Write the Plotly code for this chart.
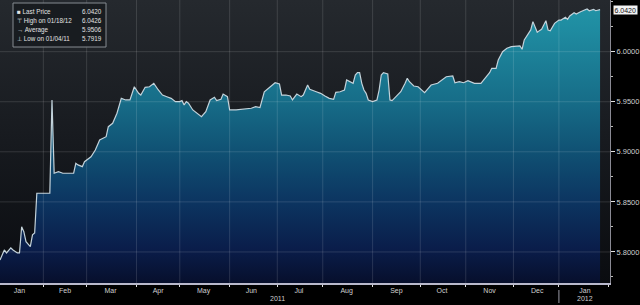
import pandas as pd
import plotly.graph_objects as go

# ---- data ----
dates = [
    "2011-01-04", "2011-01-06", "2011-01-07", "2011-01-11", "2011-01-12", "2011-01-14",
    "2011-01-17", "2011-01-18", "2011-01-19", "2011-01-20", "2011-01-24", "2011-01-25",
    "2011-01-26", "2011-01-27", "2011-02-04", "2011-02-07", "2011-02-08", "2011-02-10",
    "2011-02-14", "2011-02-21", "2011-02-22", "2011-02-23", "2011-02-25", "2011-02-28",
    "2011-03-03", "2011-03-07", "2011-03-09", "2011-03-14", "2011-03-15", "2011-03-17",
    "2011-03-21", "2011-03-23", "2011-03-25", "2011-03-29", "2011-03-31", "2011-04-04",
    "2011-04-05", "2011-04-07", "2011-04-11", "2011-04-13", "2011-04-15", "2011-04-19",
    "2011-04-21", "2011-04-25", "2011-04-27", "2011-04-29", "2011-05-02", "2011-05-03",
    "2011-05-04", "2011-05-05", "2011-05-09", "2011-05-11", "2011-05-13", "2011-05-17",
    "2011-05-19", "2011-05-23", "2011-05-24", "2011-05-26", "2011-05-27", "2011-05-31",
    "2011-06-01", "2011-06-06", "2011-06-09", "2011-06-15", "2011-06-17", "2011-06-21",
    "2011-06-23", "2011-06-28", "2011-06-30", "2011-07-04", "2011-07-05", "2011-07-07",
    "2011-07-11", "2011-07-12", "2011-07-14", "2011-07-18", "2011-07-19", "2011-07-21",
    "2011-07-22", "2011-07-27", "2011-07-29", "2011-08-02", "2011-08-04", "2011-08-08",
    "2011-08-09", "2011-08-11", "2011-08-15", "2011-08-16", "2011-08-18", "2011-08-19",
    "2011-08-22", "2011-08-23", "2011-08-24", "2011-08-25", "2011-08-26", "2011-08-29",
    "2011-08-30", "2011-09-01", "2011-09-05", "2011-09-06", "2011-09-07", "2011-09-08",
    "2011-09-12", "2011-09-13", "2011-09-14", "2011-09-16", "2011-09-20", "2011-09-22",
    "2011-09-23", "2011-09-26", "2011-09-28", "2011-09-30", "2011-10-05", "2011-10-06",
    "2011-10-10", "2011-10-13", "2011-10-17", "2011-10-19", "2011-10-24", "2011-10-25",
    "2011-10-27", "2011-10-31", "2011-11-02", "2011-11-07", "2011-11-10", "2011-11-14",
    "2011-11-16", "2011-11-17", "2011-11-21", "2011-11-22", "2011-11-24", "2011-11-28",
    "2011-11-30", "2011-12-06", "2011-12-07", "2011-12-08", "2011-12-12", "2011-12-13",
    "2011-12-14", "2011-12-15", "2011-12-16", "2011-12-19", "2011-12-20", "2011-12-21",
    "2011-12-22", "2011-12-23", "2011-12-26", "2011-12-28", "2011-12-30", "2012-01-02",
    "2012-01-04", "2012-01-05", "2012-01-06", "2012-01-10", "2012-01-11", "2012-01-13",
    "2012-01-16", "2012-01-18", "2012-01-19", "2012-01-23", "2012-01-24", "2012-01-26",
]
prices = [
    5.7919, 5.8020, 5.7990, 5.8040, 5.8020, 5.7990,
    5.7990, 5.8252, 5.8202, 5.8103, 5.8053, 5.8170,
    5.8190, 5.8586, 5.8586, 5.9517, 5.8786, 5.8802,
    5.8786, 5.8786, 5.8885, 5.8869, 5.8852, 5.8901,
    5.8951, 5.9018, 5.9118, 5.9151, 5.9251, 5.9285,
    5.9385, 5.9534, 5.9518, 5.9518, 5.9650, 5.9584,
    5.9567, 5.9644, 5.9650, 5.9684, 5.9620, 5.9567,
    5.9550, 5.9534, 5.9501, 5.9501, 5.9511, 5.9468,
    5.9501, 5.9485, 5.9418, 5.9385, 5.9351, 5.9401,
    5.9518, 5.9545, 5.9511, 5.9525, 5.9577, 5.9551,
    5.9418, 5.9418, 5.9425, 5.9435, 5.9451, 5.9441,
    5.9600, 5.9650, 5.9690, 5.9677, 5.9567, 5.9567,
    5.9557, 5.9518, 5.9577, 5.9551, 5.9567, 5.9667,
    5.9624, 5.9600, 5.9584, 5.9557, 5.9534, 5.9524,
    5.9594, 5.9600, 5.9617, 5.9717, 5.9700, 5.9684,
    5.9767, 5.9790, 5.9790, 5.9684, 5.9617, 5.9584,
    5.9518, 5.9501, 5.9518, 5.9617, 5.9767, 5.9790,
    5.9777, 5.9518, 5.9511, 5.9551, 5.9600, 5.9684,
    5.9734, 5.9700, 5.9657, 5.9650, 5.9590, 5.9617,
    5.9667, 5.9684, 5.9717, 5.9750, 5.9757, 5.9690,
    5.9700, 5.9690, 5.9710, 5.9684, 5.9684, 5.9734,
    5.9790, 5.9834, 5.9834, 5.9917, 6.0000, 6.0034,
    6.0050, 6.0057, 6.0024, 6.0117, 6.0184, 6.0217,
    6.0300, 6.0249, 6.0194, 6.0210, 6.0224, 6.0266,
    6.0309, 6.0216, 6.0209, 6.0283, 6.0316, 6.0316,
    6.0343, 6.0323, 6.0356, 6.0389, 6.0376, 6.0399,
    6.0409, 6.0426, 6.0409, 6.0423, 6.0409, 6.0420,
]

legend_labels = ["Last Price", "High on 01/18/12", "Average", "Low on 01/04/11"]
legend_symbols = ["\u25A0", "\u22A4", "\u2192", "\u22A5"]
legend_values = ["6.0420", "6.0426", "5.9506", "5.7919"]
last_price = 6.0420

y_ticks = [5.80, 5.85, 5.90, 5.95, 6.00]
month_labels = ["Jan", "Feb", "Mar", "Apr", "May", "Jun", "Jul", "Aug", "Sep", "Oct", "Nov", "Dec", "Jan"]
month_label_dates = ["2011-01-17", "2011-02-15", "2011-03-16", "2011-04-15", "2011-05-16", "2011-06-15",
                     "2011-07-15", "2011-08-16", "2011-09-16", "2011-10-17", "2011-11-16", "2011-12-16",
                     "2012-01-17"]
year_labels = ["2011", "2012"]
year_label_dates = ["2011-07-01", "2012-01-17"]

x_range = ["2011-01-04 00:00", "2012-02-01 14:00"]
y_range = [5.769, 6.0516]

month_starts = pd.date_range("2011-02-01", "2012-01-01", freq="MS")

# ---- figure ----
W, H = 640, 305
ML, MR, MT, MB = 0, 30, 0, 22
PW, PH = W - ML - MR, H - MT - MB
FONT = "Liberation Sans, Arial"


def px_x(p):
    return p / PW


def px_y(p):
    return (PH - p) / PH


fig = go.Figure()

# background gradient of the plotting area
fig.add_trace(go.Scatter(
    x=x_range, y=[y_range[1], y_range[1]], mode="lines",
    line=dict(width=0), fill="tozeroy",
    fillgradient=dict(type="vertical", start=y_range[0], stop=y_range[1],
                      colorscale=[[0, "#0a0c10"], [0.5, "#171a1f"], [1, "#25292e"]]),
    hoverinfo="skip", showlegend=False,
))

fig.add_trace(go.Scatter(
    x=dates, y=prices, mode="lines",
    line=dict(color="#c3d2da", width=1.2),
    fill="tozeroy",
    fillgradient=dict(type="vertical", start=y_range[0], stop=y_range[1],
                      colorscale=[[0, "#070f2c"], [0.12, "#0a1d4a"], [0.29, "#0c3561"],
                                  [0.47, "#105274"], [0.65, "#176e89"], [0.9, "#1f8ca1"],
                                  [1, "#2396a8"]]),
    showlegend=False,
))

shapes = []
grid_col = "rgba(255,255,255,0.13)"
for d in month_starts:
    shapes.append(dict(type="line", xref="x", yref="paper", x0=d, x1=d, y0=0, y1=1,
                       line=dict(color=grid_col, width=1), layer="above"))
for v in y_ticks:
    shapes.append(dict(type="line", xref="paper", yref="y", x0=0, x1=1, y0=v, y1=v,
                       line=dict(color=grid_col, width=1), layer="above"))

# legend box
shapes.append(dict(type="rect", xref="paper", yref="paper",
                   x0=px_x(13), x1=px_x(106), y0=px_y(47), y1=px_y(3),
                   fillcolor="rgba(24,27,31,0.92)", line=dict(color="#858b91", width=1),
                   layer="above"))
# separator between year groups
shapes.append(dict(type="line", xref="x", yref="paper", x0=month_starts[-1], x1=month_starts[-1],
                   y0=px_y(290), y1=px_y(303), line=dict(color="#9a9aa6", width=1)))

annotations = []
rows_py = [12, 21, 30, 39]
for sym, lab, val, py in zip(legend_symbols, legend_labels, legend_values, rows_py):
    annotations.append(dict(xref="paper", yref="paper", x=px_x(15), y=px_y(py),
                            text=sym + " " + lab, showarrow=False, xanchor="left", yanchor="middle",
                            font=dict(family=FONT, size=6.3, color="#e2e2e2")))
    annotations.append(dict(xref="paper", yref="paper", x=px_x(104), y=px_y(py),
                            text=val, showarrow=False, xanchor="right", yanchor="middle",
                            font=dict(family=FONT, size=6.3, color="#e2e2e2")))

for t, d in zip(year_labels, year_label_dates):
    annotations.append(dict(xref="x", yref="paper", x=d, y=px_y(298), text=t, showarrow=False,
                            xanchor="center", yanchor="middle",
                            font=dict(family=FONT, size=7, color="#cfcfcf")))

# last price tag
annotations.append(dict(xref="paper", yref="y", x=px_x(613), y=last_price, text="%.4f" % last_price,
                        showarrow=False, xanchor="left", yanchor="middle", bgcolor="#f2f2f2",
                        borderpad=0.5, font=dict(family=FONT, size=7, color="#111")))

fig.update_layout(
    width=W, height=H,
    margin=dict(l=ML, r=MR, t=MT, b=MB),
    paper_bgcolor="#000000",
    plot_bgcolor="#15181c",
    shapes=shapes,
    annotations=annotations,
    xaxis=dict(
        type="date", range=x_range,
        rangebreaks=[dict(bounds=["sat", "mon"])],
        tickvals=month_label_dates, ticktext=month_labels,
        ticks="", ticklen=0,
        minor=dict(dtick="M1", tick0="2011-01-01", ticks="outside", ticklen=2,
                   tickcolor="#e0e0e0", tickwidth=1, showgrid=False),
        showgrid=False, zeroline=False,
        showline=True, linecolor="#b9b9cc", linewidth=2,
        tickfont=dict(family=FONT, size=7, color="#d0d0d0"),
    ),
    yaxis=dict(
        range=y_range, side="right",
        tickvals=y_ticks, tickformat=".4f",
        ticks="outside", ticklen=4, tickcolor="#e0e0e0", tickwidth=1,
        minor=dict(dtick=0.025, tick0=5.775, ticks="outside", ticklen=2, tickcolor="#bbbbbb", showgrid=False),
        showgrid=False, zeroline=False,
        showline=True, linecolor="#8a8a94", linewidth=1,
        tickfont=dict(family=FONT, size=7.5, color="#d0d0d0"),
    ),
)

fig.write_html("out.html")
